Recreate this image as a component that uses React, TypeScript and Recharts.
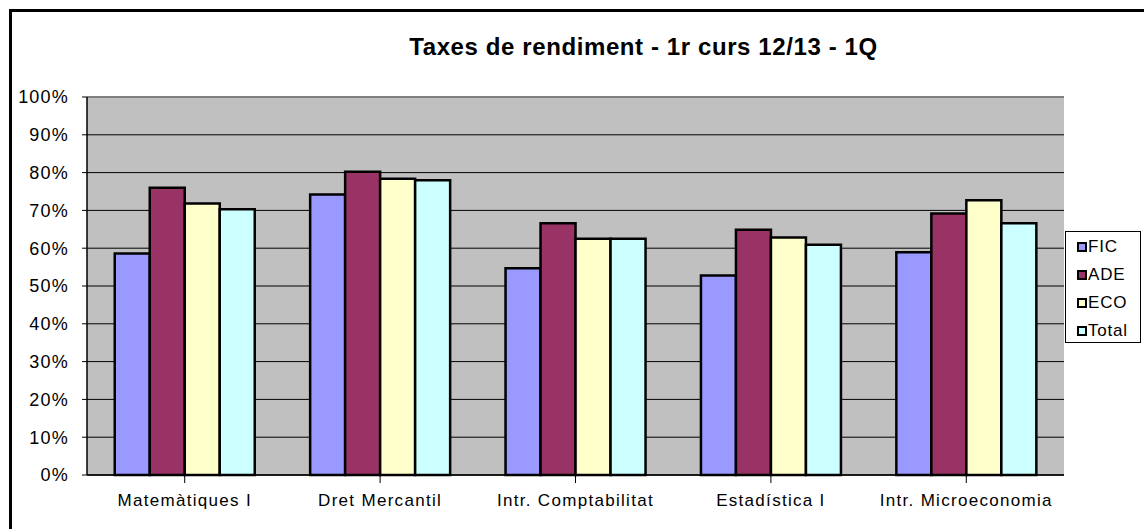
import React from 'react';
import { BarChart, Bar, XAxis, YAxis, CartesianGrid, Legend, ReferenceLine } from 'recharts';

const subjects = ['Matemàtiques I', 'Dret Mercantil', 'Intr. Comptabilitat', 'Estadística I', 'Intr. Microeconomia'];
const fic = [0.586, 0.742, 0.547, 0.528, 0.589];
const ade = [0.76, 0.802, 0.666, 0.649, 0.692];
const eco = [0.718, 0.784, 0.625, 0.628, 0.727];
const total = [0.703, 0.78, 0.625, 0.609, 0.666];
const yTicks = [0, 0.1, 0.2, 0.3, 0.4, 0.5, 0.6, 0.7, 0.8, 0.9, 1];

const series = [
  { key: 'FIC', color: '#9999FF' },
  { key: 'ADE', color: '#993366' },
  { key: 'ECO', color: '#FFFFCC' },
  { key: 'Total', color: '#CCFFFF' },
];

const data = subjects.map((name, i) => ({
  name,
  FIC: fic[i],
  ADE: ade[i],
  ECO: eco[i],
  Total: total[i],
}));

const font = '"Liberation Sans", Arial, sans-serif';

const LegendBox = () => (
  <div
    style={{
      width: 74,
      height: 109,
      border: '1px solid #000',
      background: '#fff',
      fontFamily: font,
      fontSize: 17,
      letterSpacing: 0.8,
      boxSizing: 'content-box',
      paddingTop: 1,
    }}
  >
    {series.map((s) => (
      <div key={s.key} style={{ height: 28, display: 'flex', alignItems: 'center', paddingLeft: 11, color: '#000' }}>
        <span
          style={{
            display: 'inline-block',
            width: 6,
            height: 6,
            border: '2px solid #000',
            background: s.color,
            marginRight: 1,
          }}
        />
        {s.key}
      </div>
    ))}
  </div>
);

export default function App() {
  return (
    <div style={{ position: 'absolute', left: 0, top: 0, width: 1144, height: 529, overflow: 'hidden', background: '#fff' }}>
      <div
        style={{
          position: 'absolute',
          left: 9,
          top: 9,
          width: 1300,
          height: 700,
          border: '3px solid #000',
        }}
      />
      <div
        style={{
          position: 'absolute',
          left: 0,
          top: 33,
          width: 1287,
          textAlign: 'center',
          fontFamily: font,
          fontWeight: 'bold',
          fontSize: 24,
          letterSpacing: 0.6,
          color: '#000',
        }}
      >
        Taxes de rendiment - 1r curs 12/13 - 1Q
      </div>
      <div style={{ position: 'absolute', left: 0, top: 0 }}>
        <BarChart
          width={1144}
          height={529}
          data={data}
          margin={{ top: 97, right: 80, bottom: 0, left: 17 }}
          barCategoryGap="14.2%"
          barGap={0}
        >
          <CartesianGrid vertical={false} stroke="#000" strokeWidth={1} fill="#C0C0C0" fillOpacity={1} yAxisId="left" />
          <XAxis
            dataKey="name"
            interval={0}
            tickSize={8}
            tickMargin={11}
            axisLine={{ stroke: '#000', strokeWidth: 1.5 }}
            tickLine={{ stroke: '#000' }}
            tick={{ fill: '#000', fontSize: 17, fontFamily: font, letterSpacing: 1.3 }}
            height={54}
            padding={{ left: 0, right: 0 }}
          />
          <YAxis
            yAxisId="left"
            domain={[0, 1]}
            ticks={yTicks}
            width={70}
            tickSize={5}
            tickMargin={13}
            tickFormatter={(v: number) => `${Math.round(v * 100)}%`}
            axisLine={{ stroke: '#000', strokeWidth: 1.5 }}
            tickLine={{ stroke: '#000' }}
            tick={{ fill: '#000', fontSize: 18, fontFamily: font, letterSpacing: 1.2 }}
          />
          <YAxis
            yAxisId="right"
            orientation="right"
            domain={[0, 1]}
            width={0}
            tick={false}
            tickLine={false}
            axisLine={{ stroke: '#808080', strokeWidth: 2 }}
          />
          <ReferenceLine yAxisId="left" y={1} stroke="#808080" strokeWidth={2} />
          {series.map((s) => (
            <Bar
              key={s.key}
              yAxisId="left"
              dataKey={s.key}
              fill={s.color}
              stroke="#000"
              strokeWidth={2.5}
              isAnimationActive={false}
            />
          ))}
          <Legend
            verticalAlign="middle"
            align="center"
            layout="horizontal"
            wrapperStyle={{ position: 'absolute', left: 1065, top: 231, width: 76, height: 112 }}
            content={() => <LegendBox />}
          />
        </BarChart>
      </div>
    </div>
  );
}
